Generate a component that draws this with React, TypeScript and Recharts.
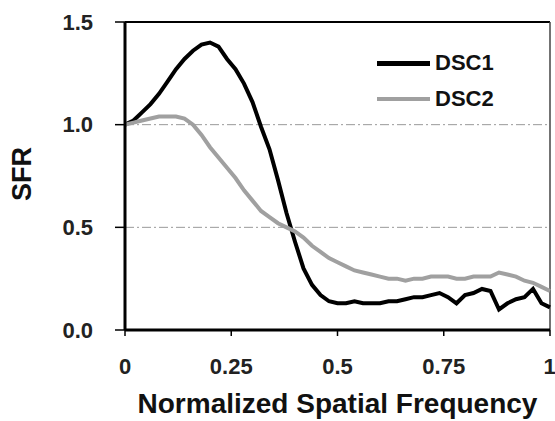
import { LineChart, Line, XAxis, YAxis, ReferenceLine, Label } from 'recharts';

const freq = [
  0, 0.02, 0.04, 0.06, 0.08, 0.1, 0.12, 0.14, 0.16, 0.18, 0.2, 0.22, 0.24, 0.26, 0.28, 0.3, 0.32, 0.34, 0.36,
  0.38, 0.4, 0.42, 0.44, 0.46, 0.48, 0.5, 0.52, 0.54, 0.56, 0.58, 0.6, 0.62, 0.64, 0.66, 0.68, 0.7, 0.72,
  0.74, 0.76, 0.78, 0.8, 0.82, 0.84, 0.86, 0.88, 0.9, 0.92, 0.94, 0.96, 0.98, 1,
];

const dsc1 = [
  1.0, 1.02, 1.06, 1.1, 1.15, 1.21, 1.27, 1.32, 1.36, 1.39, 1.4, 1.38, 1.32, 1.27, 1.2, 1.11, 0.99, 0.88, 0.73,
  0.57, 0.43, 0.3, 0.22, 0.17, 0.14, 0.13, 0.13, 0.14, 0.13, 0.13, 0.13, 0.14, 0.14, 0.15, 0.16, 0.16, 0.17,
  0.18, 0.16, 0.13, 0.17, 0.18, 0.2, 0.19, 0.1, 0.13, 0.15, 0.16, 0.2, 0.13, 0.11,
];

const dsc2 = [
  1.0, 1.01, 1.02, 1.03, 1.04, 1.04, 1.04, 1.03, 1.0, 0.95, 0.89, 0.84, 0.79, 0.74, 0.68, 0.63, 0.58, 0.55, 0.52,
  0.5, 0.48, 0.45, 0.41, 0.38, 0.35, 0.33, 0.31, 0.29, 0.28, 0.27, 0.26, 0.25, 0.25, 0.24, 0.25, 0.25, 0.26,
  0.26, 0.26, 0.25, 0.25, 0.26, 0.26, 0.26, 0.28, 0.27, 0.26, 0.24, 0.23, 0.21, 0.19,
];

const xTicks = [0, 0.25, 0.5, 0.75, 1];
const yTicks = [0, 0.5, 1, 1.5];
const gridLines = [0.5, 1];

const series = [
  { key: 'DSC1', color: '#000000', width: 4 },
  { key: 'DSC2', color: '#a0a0a0', width: 4 },
];

const data = freq.map((f, i) => ({ f, DSC1: dsc1[i], DSC2: dsc2[i] }));

const FONT = '"Liberation Sans", Arial, sans-serif';

function SfrLegend() {
  return (
    <div
      style={{
        position: 'absolute',
        left: 377,
        top: 52,
        display: 'flex',
        flexDirection: 'column',
        gap: 14,
        fontFamily: FONT,
      }}
    >
      {series.map((s) => (
        <div key={s.key} style={{ display: 'flex', alignItems: 'center', height: 22 }}>
          <div style={{ width: 53, height: s.key === 'DSC1' ? 5 : 4, background: s.color }} />
          <span style={{ fontSize: 22, fontWeight: 700, color: '#111', marginLeft: 5 }}>{s.key}</span>
        </div>
      ))}
    </div>
  );
}

export default function App() {
  return (
    <div style={{ position: 'absolute', left: 0, top: 0, width: 555, height: 421, background: '#fff' }}>
      <LineChart width={555} height={421} data={data} margin={{ top: 22, right: 5, left: 0, bottom: 0 }}>
        {gridLines.map((v) => (
          <ReferenceLine key={v} y={v} stroke="#999" strokeWidth={1} strokeDasharray="9 3 2 3" />
        ))}
        <ReferenceLine y={1.5} stroke="#000" strokeWidth={2} />
        <ReferenceLine x={1} stroke="#444" strokeWidth={1.5} />
        <XAxis
          type="number"
          dataKey="f"
          domain={[0, 1]}
          ticks={xTicks}
          height={91}
          tickSize={6}
          tickMargin={22}
          axisLine={{ stroke: '#000', strokeWidth: 3 }}
          tickLine={{ stroke: '#000', strokeWidth: 1.5 }}
          tick={{ fill: '#222', fontSize: 22, fontWeight: 700, fontFamily: FONT }}
        >
          <Label
            value="Normalized Spatial Frequency"
            position="insideBottom"
            offset={0}
            dy={-8}
            style={{ fill: '#111', fontSize: 28, fontWeight: 700, fontFamily: FONT }}
          />
        </XAxis>
        <YAxis
          domain={[0, 1.5]}
          ticks={yTicks}
          width={125}
          tickSize={10}
          tickMargin={22}
          axisLine={{ stroke: '#000', strokeWidth: 3 }}
          tickLine={{ stroke: '#000', strokeWidth: 1.5 }}
          tick={{ fill: '#222', fontSize: 22, fontWeight: 700, fontFamily: FONT }}
          tickFormatter={(v: number) => v.toFixed(1)}
        >
          <Label
            value="SFR"
            angle={-90}
            position="insideLeft"
            offset={21}
            dy={-2}
            style={{ fill: '#111', fontSize: 27, fontWeight: 700, fontFamily: FONT, textAnchor: 'middle' }}
          />
        </YAxis>
        {series.map((s) => (
          <Line
            key={s.key}
            type="linear"
            dataKey={s.key}
            stroke={s.color}
            strokeWidth={s.width}
            dot={false}
            isAnimationActive={false}
          />
        ))}
      </LineChart>
      <SfrLegend />
    </div>
  );
}
